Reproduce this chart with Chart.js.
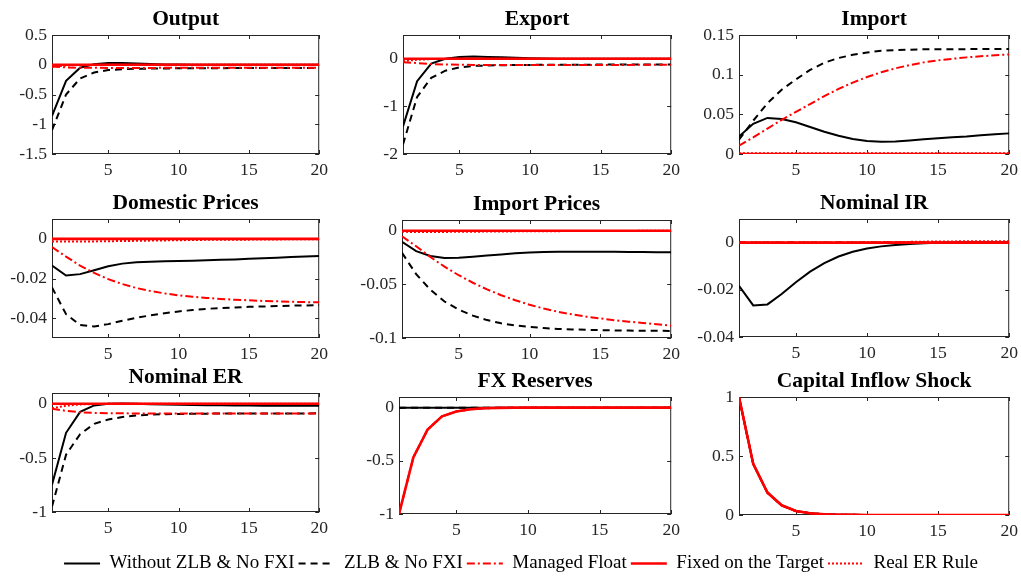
<!DOCTYPE html>
<html>
<head>
<meta charset="utf-8">
<script src="https://cdn.jsdelivr.net/npm/chart.js@4.4.1/dist/chart.umd.min.js"></script>
<style>
  html, body { margin: 0; padding: 0; background: #fff; }
  body { width: 1021px; height: 576px; position: relative; overflow: hidden; }
  .panel { position: absolute; }
</style>
</head>
<body>
<script>
// horizon (quarters)
const periods = [1, 2, 3, 4, 5, 6, 7, 8, 9, 10, 11, 12, 13, 14, 15, 16, 17, 18, 19, 20];
const xTicks = [5, 10, 15, 20];

const seriesNames = ['Without ZLB & No FXI', 'ZLB & No FXI', 'Managed Float', 'Fixed on the Target', 'Real ER Rule'];

const zeroPath = [0, 0, 0, 0, 0, 0, 0, 0, 0, 0, 0, 0, 0, 0, 0, 0, 0, 0, 0, 0];

// Output
const outWithout = [-0.86, -0.27, -0.05, 0.01, 0.03, 0.03, 0.02, 0.012, 0.006, 0.003, 0.001, 0, 0, 0, 0, 0, 0, 0, 0, 0];
const outZlb = [-1.10, -0.50, -0.23, -0.13, -0.09, -0.075, -0.068, -0.064, -0.062, -0.060, -0.059, -0.058, -0.057, -0.056, -0.056, -0.055, -0.055, -0.054, -0.054, -0.053];
const outManaged = [-0.03, -0.045, -0.05, -0.052, -0.053, -0.053, -0.053, -0.053, -0.052, -0.052, -0.052, -0.051, -0.051, -0.051, -0.05, -0.05, -0.05, -0.05, -0.05, -0.05];
const outReal = [-0.035, -0.012, -0.004, -0.001, 0, 0, 0, 0, 0, 0, 0, 0, 0, 0, 0, 0, 0, 0, 0, 0];

// Export
const expWithout = [-1.42, -0.47, -0.10, 0.0, 0.04, 0.05, 0.04, 0.03, 0.02, 0.012, 0.006, 0.003, 0.001, 0, 0, 0, 0, 0, 0, 0];
const expZlb = [-1.80, -0.80, -0.40, -0.25, -0.18, -0.15, -0.14, -0.135, -0.13, -0.128, -0.126, -0.125, -0.124, -0.123, -0.122, -0.122, -0.121, -0.121, -0.12, -0.12];
const expManaged = [-0.07, -0.09, -0.11, -0.12, -0.125, -0.128, -0.13, -0.13, -0.13, -0.13, -0.13, -0.13, -0.13, -0.13, -0.13, -0.128, -0.128, -0.127, -0.127, -0.126];
const expReal = [-0.05, -0.02, -0.006, -0.002, 0, 0, 0, 0, 0, 0, 0, 0, 0, 0, 0, 0, 0, 0, 0, 0];

// Import
const impWithout = [0.022, 0.038, 0.0455, 0.044, 0.040, 0.034, 0.028, 0.023, 0.019, 0.0165, 0.0155, 0.0158, 0.017, 0.0185, 0.020, 0.021, 0.022, 0.0235, 0.0248, 0.026];
const impZlb = [0.018, 0.042, 0.064, 0.081, 0.094, 0.106, 0.115, 0.121, 0.125, 0.128, 0.130, 0.131, 0.1315, 0.132, 0.132, 0.132, 0.1322, 0.1322, 0.1322, 0.1322];
const impManaged = [0.0106, 0.021, 0.032, 0.043, 0.053, 0.063, 0.073, 0.082, 0.090, 0.097, 0.103, 0.108, 0.112, 0.1155, 0.118, 0.120, 0.1218, 0.1232, 0.1244, 0.1255];
const impReal = [0.001, 0.001, 0.001, 0.001, 0.001, 0.001, 0.001, 0.001, 0.001, 0.001, 0.001, 0.001, 0.001, 0.001, 0.001, 0.001, 0.001, 0.001, 0.001, 0.001];

// Domestic Prices
const domWithout = [-0.0135, -0.0185, -0.0178, -0.0158, -0.0138, -0.0125, -0.0118, -0.0115, -0.0113, -0.0112, -0.011, -0.0108, -0.0106, -0.0104, -0.0101, -0.0098, -0.0095, -0.0092, -0.0089, -0.0086];
const domZlb = [-0.0245, -0.038, -0.0434, -0.0442, -0.043, -0.0413, -0.0398, -0.0386, -0.0375, -0.0366, -0.0359, -0.0353, -0.0349, -0.0346, -0.0343, -0.0341, -0.0339, -0.0337, -0.0336, -0.0334];
const domManaged = [-0.0042, -0.009, -0.0135, -0.0172, -0.0203, -0.0228, -0.0248, -0.0263, -0.0275, -0.0285, -0.0292, -0.0298, -0.0303, -0.0307, -0.031, -0.0313, -0.0315, -0.0317, -0.0319, -0.032];
const domReal = [-0.0013, -0.0014, -0.0014, -0.0013, -0.0012, -0.0011, -0.001, -0.0009, -0.0008, -0.0007, -0.0006, -0.0005, -0.0005, -0.0004, -0.0004, -0.0003, -0.0003, -0.0002, -0.0002, -0.0002];

// Import Prices
const ipWithout = [-0.0104, -0.019, -0.0235, -0.0255, -0.0252, -0.0243, -0.0232, -0.0221, -0.0211, -0.0203, -0.0198, -0.0196, -0.0195, -0.0195, -0.0196, -0.0197, -0.0198, -0.0199, -0.02, -0.0201];
const ipZlb = [-0.0206, -0.0405, -0.055, -0.066, -0.0735, -0.0791, -0.0833, -0.0863, -0.0883, -0.0897, -0.0907, -0.0915, -0.092, -0.0924, -0.0927, -0.0929, -0.0931, -0.0932, -0.0933, -0.0934];
const ipManaged = [-0.0052, -0.0145, -0.0245, -0.0335, -0.0415, -0.0485, -0.0547, -0.0601, -0.0648, -0.069, -0.0725, -0.0755, -0.078, -0.0801, -0.0818, -0.0834, -0.0848, -0.086, -0.0872, -0.0885];
const ipReal = [-0.001, -0.0012, -0.0012, -0.0011, -0.001, -0.0009, -0.0008, -0.0007, -0.0006, -0.0005, -0.0004, -0.0004, -0.0003, -0.0003, -0.0002, -0.0002, -0.0002, -0.0001, -0.0001, -0.0001];

// Nominal IR
const irWithout = [-0.0183, -0.0266, -0.0262, -0.0218, -0.0168, -0.0123, -0.0087, -0.0059, -0.0039, -0.0025, -0.0016, -0.001, -0.0006, -0.0003, -0.0001, 0, 0.0001, 0.0001, 0.0002, 0.0002];
const irReal = [0, 0, 0, 0, 0, 0, 0, 0, 0, 0, 0.0001, 0.0002, 0.0003, 0.0004, 0.0005, 0.0005, 0.0006, 0.0006, 0.0006, 0.0006];

// Nominal ER
const nerWithout = [-0.747, -0.268, -0.074, -0.015, 0.0, 0.003, 0.001, -0.003, -0.006, -0.009, -0.011, -0.013, -0.014, -0.015, -0.016, -0.017, -0.017, -0.018, -0.018, -0.018];
const nerZlb = [-0.95, -0.47, -0.28, -0.185, -0.145, -0.122, -0.108, -0.10, -0.096, -0.094, -0.092, -0.091, -0.09, -0.09, -0.09, -0.089, -0.089, -0.089, -0.089, -0.088];
const nerManaged = [-0.045, -0.065, -0.078, -0.084, -0.087, -0.088, -0.089, -0.089, -0.089, -0.089, -0.089, -0.089, -0.089, -0.089, -0.089, -0.089, -0.089, -0.089, -0.089, -0.089];
const nerReal = [-0.04, -0.018, -0.006, -0.002, 0, 0, 0, 0, 0, 0, 0, 0, 0, 0, 0, 0, 0, 0, 0, 0];

// FX Reserves
const fxPath = [-1, -0.468, -0.205, -0.082, -0.036, -0.015, -0.006, -0.0025, -0.001, 0, 0, 0, 0, 0, 0, 0, 0, 0, 0, 0];

// Capital Inflow Shock
const shockPath = [1, 0.433, 0.19, 0.082, 0.034, 0.015, 0.006, 0.0027, 0.0012, 0.0005, 0.0002, 0.0001, 0, 0, 0, 0, 0, 0, 0, 0];

// y tick labels per panel
const outTicks = [-1.5, -1, -0.5, 0, 0.5];
const expTicks = [-2, -1, 0];
const impTicks = [0, 0.05, 0.1, 0.15];
const domTicks = [-0.04, -0.02, 0];
const ipTicks = [-0.1, -0.05, 0];
const irTicks = [-0.04, -0.02, 0];
const nerTicks = [-1, -0.5, 0];
const fxTicks = [-1, -0.5, 0];
const shockTicks = [0, 0.5, 1];

const axisColor = '#262626';
const serif = "'Liberation Serif', 'Times New Roman', serif";

const lineStyles = [
  { color: '#000000', width: 2, dash: [] },
  { color: '#000000', width: 2, dash: [7, 5] },
  { color: '#ff0000', width: 2, dash: [8, 3, 2, 3] },
  { color: '#ff0000', width: 2.6, dash: [] },
  { color: '#ff0000', width: 2, dash: [2, 2] }
];

// panel: title, series, y range, ticks, plot box [left, top, width, height]
const panels = [
  { title: 'Output', series: [outWithout, outZlb, outManaged, zeroPath, outReal], min: -1.5, max: 0.5, ticks: outTicks, box: [52, 35, 268, 119] },
  { title: 'Export', series: [expWithout, expZlb, expManaged, zeroPath, expReal], min: -2, max: 0.5, ticks: expTicks, box: [403, 35, 269, 119] },
  { title: 'Import', series: [impWithout, impZlb, impManaged, zeroPath, impReal], min: 0, max: 0.15, ticks: impTicks, box: [739, 35, 271, 119] },
  { title: 'Domestic Prices', series: [domWithout, domZlb, domManaged, zeroPath, domReal], min: -0.05, max: 0.01, ticks: domTicks, box: [52, 219, 268, 119] },
  { title: 'Import Prices', series: [ipWithout, ipZlb, ipManaged, zeroPath, ipReal], min: -0.1, max: 0.01, ticks: ipTicks, box: [402, 220, 270, 118] },
  { title: 'Nominal IR', series: [irWithout, zeroPath, zeroPath, zeroPath, irReal], min: -0.04, max: 0.01, ticks: irTicks, box: [739, 219, 271, 118] },
  { title: 'Nominal ER', series: [nerWithout, nerZlb, nerManaged, zeroPath, nerReal], min: -1, max: 0.1, ticks: nerTicks, box: [52, 393, 268, 119] },
  { title: 'FX Reserves', series: [zeroPath, zeroPath, fxPath, fxPath, fxPath], min: -1, max: 0.1, ticks: fxTicks, box: [399, 397, 273, 117] },
  { title: 'Capital Inflow Shock', series: [shockPath, shockPath, shockPath, shockPath, shockPath], min: 0, max: 1, ticks: shockTicks, box: [739, 397, 271, 118] }
];

const Y_AXIS_W = 52, X_AXIS_H = 28, TITLE_H = 30, RIGHT_PAD = 14;

// box around the axes with inward tick marks, matlab style
const boxPlugin = {
  id: 'axesBox',
  beforeDatasetsDraw(chart) {
    const { ctx, chartArea: a, scales: { x, y } } = chart;
    ctx.save();
    ctx.strokeStyle = axisColor;
    ctx.lineWidth = 1;
    ctx.strokeRect(a.left + 0.5, a.top + 0.5, a.right - a.left - 1, a.bottom - a.top - 1);
    ctx.beginPath();
    x.ticks.forEach(t => {
      const px = Math.round(x.getPixelForValue(t.value)) + 0.5;
      ctx.moveTo(px, a.bottom); ctx.lineTo(px, a.bottom - 4);
      ctx.moveTo(px, a.top); ctx.lineTo(px, a.top + 4);
    });
    y.ticks.forEach(t => {
      const py = Math.round(y.getPixelForValue(t.value)) + 0.5;
      ctx.moveTo(a.left, py); ctx.lineTo(a.left + 4, py);
      ctx.moveTo(a.right, py); ctx.lineTo(a.right - 4, py);
    });
    ctx.stroke();
    ctx.restore();
  }
};

function makeCanvas(left, top, w, h) {
  const div = document.createElement('div');
  div.className = 'panel';
  div.style.left = left + 'px';
  div.style.top = top + 'px';
  div.style.width = w + 'px';
  div.style.height = h + 'px';
  const canvas = document.createElement('canvas');
  canvas.width = w;
  canvas.height = h;
  div.appendChild(canvas);
  document.body.appendChild(div);
  return canvas;
}

panels.forEach(p => {
  const [L, T, W, H] = p.box;
  const canvas = makeCanvas(L - Y_AXIS_W, T - TITLE_H, W + Y_AXIS_W + RIGHT_PAD, H + TITLE_H + X_AXIS_H);

  new Chart(canvas, {
    type: 'line',
    data: {
      labels: periods,
      datasets: p.series.map((values, i) => ({
        label: seriesNames[i],
        data: values,
        borderColor: lineStyles[i].color,
        backgroundColor: lineStyles[i].color,
        borderWidth: lineStyles[i].width,
        borderDash: lineStyles[i].dash,
        pointRadius: 0,
        tension: 0,
        fill: false,
        order: 5 - i
      }))
    },
    options: {
      responsive: false,
      animation: false,
      events: [],
      layout: { padding: { left: 0, right: RIGHT_PAD, top: 0, bottom: 0 } },
      plugins: {
        legend: { display: false },
        tooltip: { enabled: false },
        title: {
          display: true,
          text: p.title,
          fullSize: false,
          color: '#000',
          font: { family: serif, size: 21.5, weight: 'bold', lineHeight: 1 },
          padding: { top: 4, bottom: 4.5 }
        }
      },
      scales: {
        x: {
          type: 'linear',
          min: 1,
          max: 20,
          grid: { display: false, drawTicks: false },
          border: { display: false },
          afterBuildTicks: s => { s.ticks = xTicks.map(v => ({ value: v })); },
          afterFit: s => { s.height = X_AXIS_H; },
          ticks: {
            color: axisColor,
            padding: 6,
            maxRotation: 0,
            font: { family: serif, size: 17.6 },
            callback: v => String(v)
          }
        },
        y: {
          min: p.min,
          max: p.max,
          grid: { display: false, drawTicks: false },
          border: { display: false },
          afterBuildTicks: s => { s.ticks = p.ticks.map(v => ({ value: v })); },
          afterFit: s => { s.width = Y_AXIS_W; },
          ticks: {
            color: axisColor,
            padding: 5,
            font: { family: serif, size: 17.6 },
            callback: v => String(v)
          }
        }
      }
    },
    plugins: [boxPlugin]
  });
});

// shared legend below the panels (tall canvas: a top legend may only use half the height)
const legendCanvas = makeCanvas(0, 550, 1042, 100);
new Chart(legendCanvas, {
  type: 'line',
  data: {
    labels: [],
    datasets: seriesNames.map((name, i) => ({
      label: name,
      data: [],
      borderColor: lineStyles[i].color,
      borderWidth: lineStyles[i].width,
      borderDash: lineStyles[i].dash
    }))
  },
  options: {
    responsive: false,
    animation: false,
    events: [],
    scales: { x: { display: false }, y: { display: false } },
    plugins: {
      tooltip: { enabled: false },
      legend: {
        position: 'top',
        labels: {
          usePointStyle: true,
          pointStyle: 'line',
          pointStyleWidth: 36,
          padding: 4,
          color: '#000',
          font: { family: serif, size: 19, lineHeight: 1 },
          generateLabels: chart => chart.data.datasets.map((ds, i) => ({
            text: ds.label,
            strokeStyle: ds.borderColor,
            fillStyle: ds.borderColor,
            lineWidth: ds.borderWidth,
            lineDash: ds.borderDash,
            pointStyle: 'line',
            fontColor: '#000',
            hidden: false,
            datasetIndex: i
          }))
        }
      }
    }
  }
});
</script>
</body>
</html>
